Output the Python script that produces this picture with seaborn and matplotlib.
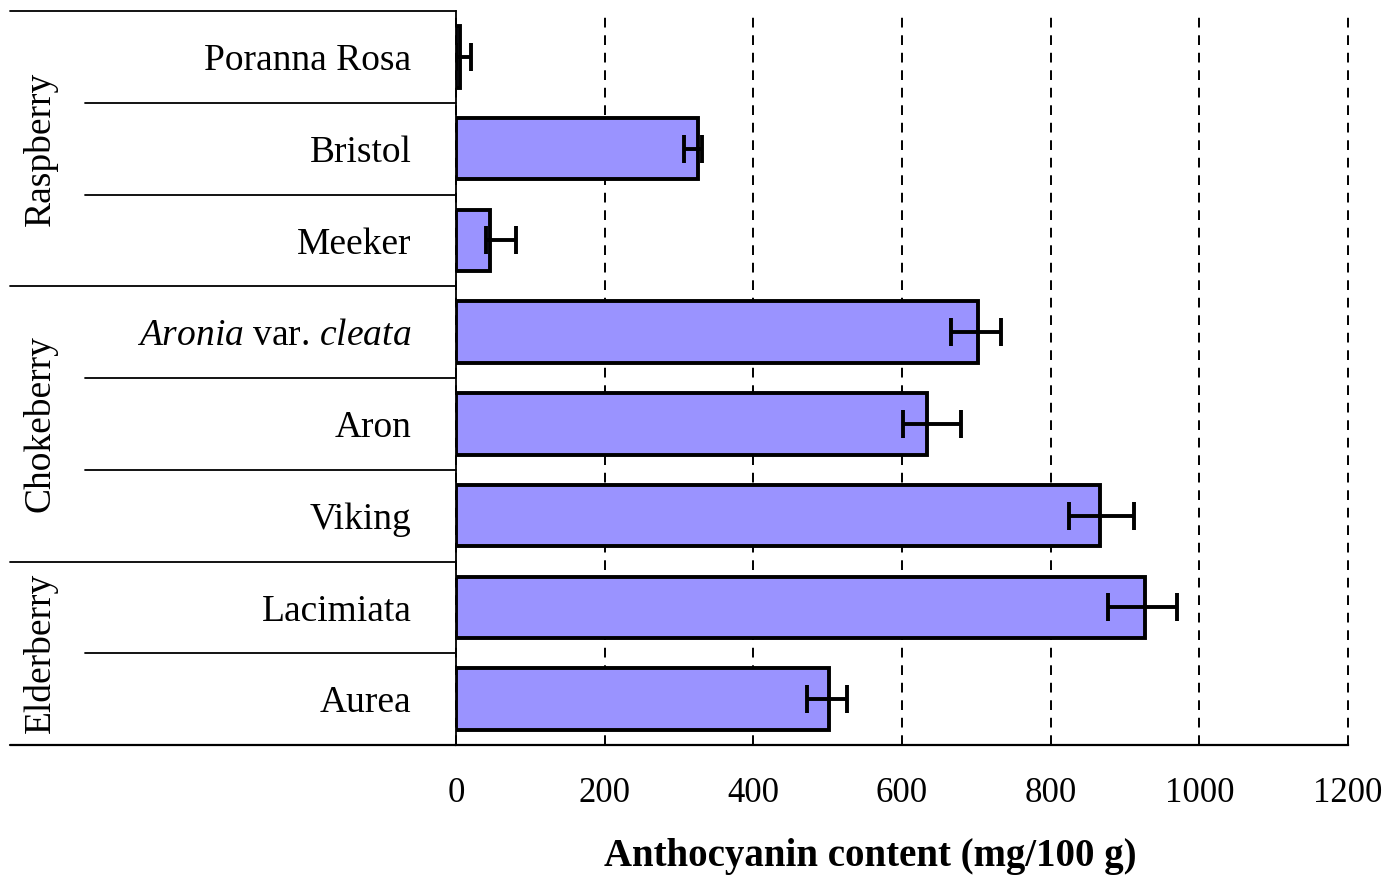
import seaborn as sns
import matplotlib.pyplot as plt
import numpy as np

# data
varieties = ['Poranna Rosa', 'Bristol', 'Meeker', 'Aronia var. cleata',
             'Aron', 'Viking', 'Lacimiata', 'Aurea']
groups = ['Raspberry', 'Chokeberry', 'Elderberry']
group_sizes = [3, 3, 2]
content = [6, 326, 46, 702, 633, 866, 927, 502]
err_low = [6, 19, 5, 36, 32, 41, 50, 30]
err_high = [14, 5, 35, 31, 47, 46, 43, 24]
xticks = [0, 200, 400, 600, 800, 1000, 1200]

# labels as drawn (italics for the genus)
labels = {'Aronia var. cleata': r'$\mathit{Aronia}$ var. $\mathit{cleata}$'}
tick_labels = [labels.get(v, v) for v in varieties]

sns.set_style('white')
plt.rcParams['font.family'] = ['Liberation Serif', 'DejaVu Serif']
plt.rcParams['mathtext.fontset'] = 'custom'
plt.rcParams['mathtext.rm'] = 'Liberation Serif'
plt.rcParams['mathtext.it'] = 'Liberation Serif:italic'
for k in ['text.color', 'axes.labelcolor', 'xtick.color', 'ytick.color']:
    plt.rcParams[k] = 'black'

fig = plt.figure(figsize=(13.88, 8.75), dpi=100)
ax = fig.add_axes([456/1388, 1-745/875, 892/1388, 734/875])

sns.barplot(x=content, y=varieties, orient='h', color='#9a93ff', saturation=1,
            edgecolor='black', linewidth=2.8, width=0.67, ax=ax, zorder=3)
ax.errorbar(content, np.arange(len(varieties)), xerr=[err_low, err_high],
            fmt='none', ecolor='black', elinewidth=2.8, capsize=10, capthick=2.8, zorder=4)

ax.set_xlim(0, 1200)
ax.set_ylim(len(varieties) - 0.5, -0.5)
ax.set_xticks(xticks)
ax.set_xticklabels([str(t) for t in xticks], fontsize=25)
ax.set_yticks(range(len(varieties)))
ax.set_yticklabels(tick_labels, fontsize=27)
ax.tick_params(axis='y', length=0, pad=32)
ax.tick_params(axis='x', direction='out', length=13, width=1.3, pad=10, color='black')
ax.set_xlabel('Anthocyanin content (mg/100 g)', fontsize=28, fontweight='bold', labelpad=20)
ax.xaxis.label.set_x((870 - 456) / 892)
ax.set_ylabel('')

ax.xaxis.grid(True, linestyle=(0, (5, 4)), color='black', linewidth=1.4, zorder=0)
for gl in ax.get_xgridlines():
    gl.set_clip_on(False)
ax.set_axisbelow(True)
for s in ['top', 'right']:
    ax.spines[s].set_visible(False)
ax.spines['left'].set_linewidth(1.3)
ax.spines['bottom'].set_linewidth(1.6)
ax.spines['left'].set_color('black')
ax.spines['bottom'].set_color('black')

# table-like lines left of the plot
tr = ax.get_yaxis_transform()
x_out = (10 - 456) / 892
x_in = (85 - 456) / 892
ax.plot([x_out, 0], [-0.5, -0.5], color='black', lw=1.3, transform=tr, clip_on=False)
ax.plot([x_out, 0], [len(varieties) - 0.5] * 2, color='black', lw=1.6, transform=tr, clip_on=False)
start = 0
for g, n in zip(groups, group_sizes):
    for k in range(1, n):
        ax.plot([x_in, 0], [start + k - 0.5] * 2, color='black', lw=1.3, transform=tr, clip_on=False)
    if start > 0:
        ax.plot([x_out, 0], [start - 0.5] * 2, color='black', lw=1.3, transform=tr, clip_on=False)
    ax.text((40 - 456) / 892, start + (n - 1) / 2, g, rotation=90, fontsize=27,
            ha='center', va='center', transform=tr)
    start += n

fig.savefig('out.png', dpi=100)
